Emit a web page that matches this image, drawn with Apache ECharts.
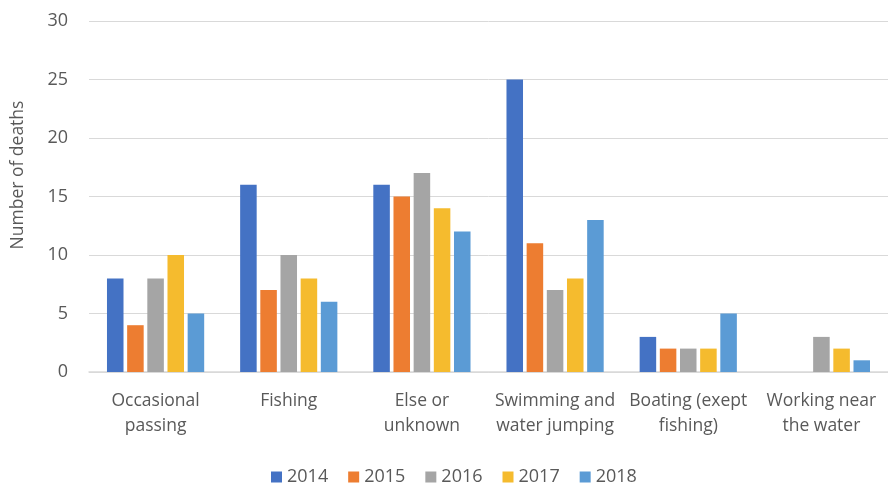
<!DOCTYPE html>
<html>
<head>
<meta charset="utf-8">
<script src="https://cdn.jsdelivr.net/npm/echarts@6/dist/echarts.min.js"></script>
<style>
  html, body { margin: 0; padding: 0; background: #fff; }
  #chart { width: 888px; height: 483px; }
</style>
</head>
<body>
<div id="chart"></div>
<script>
// Drowning deaths by activity, 2014–2018
const categories = [
  'Occasional\npassing',
  'Fishing',
  'Else or\nunknown',
  'Swimming and\nwater jumping',
  'Boating (exept\nfishing)',
  'Working near\nthe water'
];
const years = ['2014', '2015', '2016', '2017', '2018'];
const deaths2014 = [8, 16, 16, 25, 3, 0];
const deaths2015 = [4, 7, 15, 11, 2, 0];
const deaths2016 = [8, 10, 17, 7, 2, 3];
const deaths2017 = [10, 8, 14, 8, 2, 2];
const deaths2018 = [5, 6, 12, 13, 5, 1];
const yTicks = [0, 5, 10, 15, 20, 25, 30];

const seriesValues = [deaths2014, deaths2015, deaths2016, deaths2017, deaths2018];
const colors = ['#4472C4', '#ED7D31', '#A5A5A5', '#F5BB2E', '#5B9BD5'];
const font = '"Open Sans", "Liberation Sans", sans-serif';
const textColor = '#595959';

const chart = echarts.init(document.getElementById('chart'), null, { renderer: 'canvas' });
chart.setOption({
  animation: false,
  color: colors,
  textStyle: { fontFamily: font },
  grid: { left: 89, top: 21, width: 806, height: 351, containLabel: false },
  legend: {
    data: years,
    left: 266,
    top: 463,
    itemWidth: 11,
    itemHeight: 11,
    itemGap: 20,
    icon: 'rect',
    textStyle: { fontFamily: font, fontSize: 18, color: textColor }
  },
  xAxis: {
    type: 'category',
    data: categories,
    axisTick: { show: false },
    axisLine: { show: true, lineStyle: { color: '#D9D9D9', width: 1.5 } },
    axisLabel: {
      interval: 0,
      margin: 17,
      lineHeight: 25,
      fontFamily: font,
      fontSize: 17.5,
      color: textColor
    }
  },
  yAxis: {
    type: 'value',
    min: yTicks[0],
    max: yTicks[yTicks.length - 1],
    interval: 5,
    axisLine: { show: false },
    axisTick: { show: false },
    splitLine: { lineStyle: { color: '#D9D9D9', width: 1 } },
    axisLabel: { margin: 21, fontFamily: font, fontSize: 18, color: textColor }
  },
  graphic: [{
    type: 'text',
    x: 18,
    y: 175,
    rotation: Math.PI / 2,
    style: {
      text: 'Number of deaths',
      fontFamily: font,
      fontSize: 17.5,
      fill: textColor,
      align: 'center',
      verticalAlign: 'middle'
    }
  }],
  series: years.map((y, i) => ({
    name: y,
    type: 'bar',
    data: seriesValues[i],
    barGap: '22%',
    barCategoryGap: '27%',
    itemStyle: { color: colors[i] }
  }))
});
</script>
</body>
</html>
